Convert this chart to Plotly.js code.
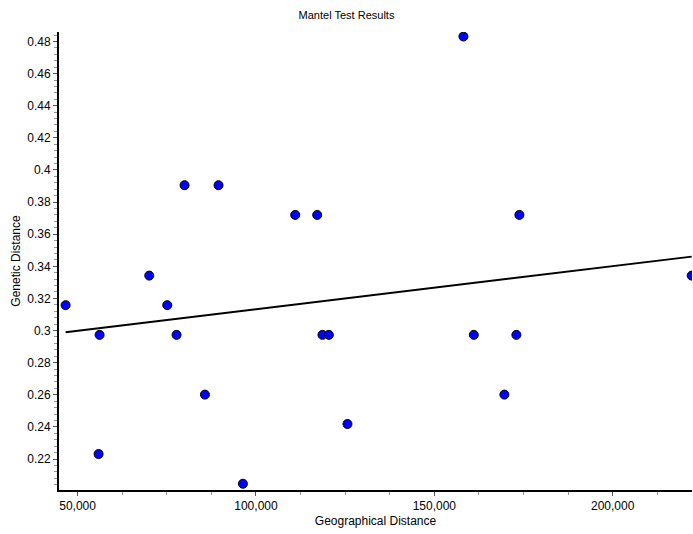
<!DOCTYPE html>
<html>
<head>
<meta charset="utf-8">
<script src="https://cdn.plot.ly/plotly-3.0.1.min.js"></script>
<style>html,body{margin:0;padding:0;background:#fff;}#chart{width:693px;height:534px;}</style>
</head>
<body>
<div id="chart"></div>
<script>
// Geographical distance (x) and genetic distance (y) of each pair
const geoDistance = [46638, 56164, 55884, 70090, 75133, 77739, 79980, 89507, 85696, 96343,
  110998, 117162, 118647, 120440, 125652, 158154, 161067, 169642, 173004, 173844, 222146];
const geneticDistance = [0.3158, 0.2973, 0.2231, 0.3342, 0.3158, 0.2973, 0.3905, 0.3905, 0.2601, 0.2046,
  0.372, 0.372, 0.2973, 0.2973, 0.2418, 0.4831, 0.2973, 0.2601, 0.2973, 0.372, 0.3342];
const chartTitle = "Mantel Test Results";
const xTitle = "Geographical Distance";
const yTitle = "Genetic Distance";

// least squares regression line
const n = geoDistance.length;
const mx = geoDistance.reduce((a, b) => a + b, 0) / n;
const my = geneticDistance.reduce((a, b) => a + b, 0) / n;
let sxy = 0, sxx = 0;
for (let i = 0; i < n; i++) {
  sxy += (geoDistance[i] - mx) * (geneticDistance[i] - my);
  sxx += (geoDistance[i] - mx) * (geoDistance[i] - mx);
}
const slope = sxy / sxx;
const intercept = my - slope * mx;
const xMin = Math.min(...geoDistance), xMax = Math.max(...geoDistance);
const lineX = [xMin, xMax];
const lineY = lineX.map(x => intercept + slope * x);

const font = "Liberation Sans, Arial, sans-serif";

const traces = [
  {x: lineX, y: lineY, type: 'scatter', mode: 'lines', line: {color: '#000', width: 2}, hoverinfo: 'skip'},
  {x: geoDistance, y: geneticDistance, type: 'scatter', mode: 'markers',
   marker: {color: '#0000ff', size: 9, line: {color: '#000', width: 1}}}
];

const layout = {
  width: 693, height: 534,
  margin: {l: 59, r: 1, t: 32, b: 44},
  showlegend: false,
  paper_bgcolor: '#fff', plot_bgcolor: '#fff',
  font: {family: font, size: 12, color: '#000'},
  title: {text: chartTitle, font: {family: font, size: 11, color: '#000'}, x: 0.5, xanchor: 'center', y: 0.972, yanchor: 'middle', yref: 'container'},
  xaxis: {
    range: [44789, 222233],
    tick0: 50000, dtick: 50000, tickformat: ',d',
    showgrid: false, zeroline: false,
    showline: true, linecolor: '#000', linewidth: 2,
    ticks: 'outside', ticklen: 4, tickcolor: '#555', tickwidth: 1,
    tickfont: {family: font, size: 12, color: '#000'},
    minor: {ticks: 'outside', dtick: 12500, tick0: 50000, ticklen: 3, tickcolor: '#999', showgrid: false},
    title: {text: xTitle, font: {family: font, size: 12, color: '#000'}, standoff: 4},
    automargin: false
  },
  yaxis: {
    range: [0.2007, 0.4859],
    tick0: 0.22, dtick: 0.02,
    showgrid: false, zeroline: false,
    showline: true, linecolor: '#000', linewidth: 2,
    ticks: 'outside', ticklen: 4, tickcolor: '#555', tickwidth: 1,
    tickfont: {family: font, size: 12, color: '#000'},
    minor: {ticks: 'outside', dtick: 0.004, tick0: 0.22, ticklen: 3, tickcolor: '#999', showgrid: false},
    title: {text: yTitle, font: {family: font, size: 12, color: '#000'}, standoff: 4},
    automargin: false
  }
};

Plotly.newPlot('chart', traces, layout, {displayModeBar: false, staticPlot: true});
</script>
</body>
</html>
